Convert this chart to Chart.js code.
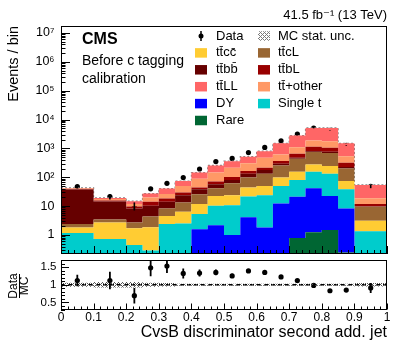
<!DOCTYPE html>
<html><head><meta charset="utf-8">
<script src="https://cdn.jsdelivr.net/npm/chart.js@4.4.0/dist/chart.umd.min.js"></script>
<style>
html,body{margin:0;padding:0;background:#fff;}
#wrap{position:relative;width:407px;height:344px;overflow:hidden;background:#fff;}
#main{position:absolute;left:0;top:0;}
#ratio{position:absolute;left:0;top:256px;}
</style></head><body>
<div id="wrap"><canvas id="main" width="407" height="258"></canvas><canvas id="ratio" width="407" height="88"></canvas></div>
<script>
// ---------------- data ----------------
const binEdges = [0,0.1,0.2,0.25,0.3,0.35,0.4,0.45,0.5,0.55,0.6,0.65,0.7,0.75,0.8,0.85,0.9,1.0];
// stacked MC components, events per bin (bottom of stack first)
const rare    = [0,0,0,0,0,0,0,0,0,0,0,0,0.79,1.24,1.49,0.25,0];
const dy      = [0,0,0,0,0,0,1.6,2.2,1.0,4.1,1.84,12.4,20.2,40.8,21.2,8.05,0];
const singleT = [1.17,0.73,0.45,0.29,2.4,2.5,3.7,8.1,9.8,17.5,22.2,37.6,59,115,111,30.2,1.34];
const ttcc    = [0.67,2.0,1.25,1.56,2.2,3.9,6.5,12.4,13.2,23,26,48,77,123,111,36.5,1.76];
const ttcL    = [0.56,0.7,1.04,2.55,3.7,7.0,14.2,18.9,38,53.4,84,161,283,480,455,125,6.4];
const ttbb    = [35.6,11.1,5.56,5.9,5.8,10.5,12.5,16,18,36,44,38,38,44,65,26,0.2];
const ttbL    = [1.5,1.2,1.4,3.8,4.4,5.7,6.1,14.4,22,30,37,68,177,336,285,94,2.1];
const ttOther = [1.5,2.1,2.3,5.8,8.0,20.4,45.4,74,113,140,263,255,455,750,740,220,7.1];
const ttLL    = [2.0,1.5,2.9,7.4,14.2,24.6,56,113,147,214,326,890,1700,3260,3360,970,35.4];
// data
const dataVals = [48,21.6,10.3,40,62,98,194,350,452,720,1085,1840,3150,5050,4270,1280,49];
const dataErr  = [6.9,4.6,3.2,6.3,7.9,9.9,13.9,18.7,21.3,26.8,32.9,42.9,56.1,71,65.3,35.8,7];
// ratio panel
const ratioVals = [1.12,1.12,0.69,1.48,1.53,1.32,1.33,1.35,1.25,1.39,1.35,1.22,1.12,0.98,0.83,0.85,0.91];
const ratioErr  = [0.16,0.25,0.22,0.24,0.20,0.14,0.10,0.08,0.06,0.04,0.035,0.025,0.02,0.015,0.015,0.025,0.14];
const mcUnc     = [0.06,0.08,0.08,0.06,0.05,0.03,0.03,0.03,0.03,0.03,0.03,0.03,0.03,0.03,0.03,0.03,0.05];
// ticks
const yMainTickVals   = [1,10,100,1e3,1e4,1e5,1e6,1e7];
const yMainTickLabels = ['1','10','10\u00B2','10\u00B3','10\u2074','10\u2075','10\u2076','10\u2077'];
const xTickVals   = [0,0.1,0.2,0.3,0.4,0.5,0.6,0.7,0.8,0.9,1];
const xTickLabels = ['0','0.1','0.2','0.3','0.4','0.5','0.6','0.7','0.8','0.9','1'];
const yRatioTickVals   = [0.5,1,1.5];
const yRatioTickLabels = ['0.5','1','1.5'];
// process names and colours
const procNames  = ['Rare','DY','Single t','tt\u0304cc\u0304','tt\u0304cL','tt\u0304bb\u0304','tt\u0304bL','tt\u0304+other','tt\u0304LL'];
const procColors = ['#006633','#0000ff','#00cccc','#ffcc33','#996633','#660000','#990000','#ff9966','#ff6666'];
const procVals   = [rare,dy,singleT,ttcc,ttcL,ttbb,ttbL,ttOther,ttLL];

const FONT = '"Liberation Sans", Arial, Helvetica, "DejaVu Sans", sans-serif';
const nb = binEdges.length - 1;
const centers = binEdges.slice(0,-1).map((e,i)=>(e+binEdges[i+1])/2);
function stepPts(arr){ const p=[]; for(let i=0;i<nb;i++) p.push({x:binEdges[i],y:arr[i]}); p.push({x:binEdges[nb],y:arr[nb-1]}); return p; }

// hatch pattern for MC stat. unc.
function makeHatch(col){
  const c=document.createElement('canvas'); c.width=4; c.height=4;
  const g=c.getContext('2d');
  g.fillStyle=col;
  for(let x=0;x<4;x++) for(let y=0;y<4;y++){ if((x+y)%4===0 || (x-y+4)%4===0) g.fillRect(x,y,1,1); }
  return g.createPattern(c,'repeat');
}
const hatchMain = makeHatch('#7a7a7a');

// cumulative stack (built from the component arrays); floor keeps values below axis drawable on log scale
const FLOOR = 0.1;
const cum = new Array(nb).fill(0);
const stackSets = procVals.map((vals,k)=>{
  for(let i=0;i<nb;i++) cum[i]+=vals[i];
  return {type:'line', label:procNames[k], data:stepPts(cum.map(v=>Math.max(v,FLOOR))), stepped:true,
          fill: k===0 ? 'start' : '-1', backgroundColor:procColors[k], borderColor:'rgba(0,0,0,0)', borderWidth:0, pointRadius:0};
});
const totalMC = cum.slice();

function drawFrame(ctx, ca){
  ctx.save(); ctx.strokeStyle='#000'; ctx.lineWidth=1;
  ctx.strokeRect(Math.round(ca.left)+0.5, Math.round(ca.top)+0.5, Math.round(ca.right-ca.left)-1, Math.round(ca.bottom-ca.top)-1);
  ctx.restore();
}
function hLine(ctx,x1,x2,y){ y=Math.round(y)+0.5; ctx.beginPath(); ctx.moveTo(x1,y); ctx.lineTo(x2,y); ctx.stroke(); }
function vLine(ctx,x,y1,y2){ x=Math.round(x)+0.5; ctx.beginPath(); ctx.moveTo(x,y1); ctx.lineTo(x,y2); ctx.stroke(); }
function xTicks(ctx, xs, ca, maj, mnr){
  for(let i=0;i<=50;i++){ const v=i*0.02; const px=xs.getPixelForValue(v); const L=(i%5===0)?maj:mnr; vLine(ctx,px,ca.bottom,ca.bottom-L); }
}
function errBars(ctx, chart, ys, xs, vals, errs, lw){
  const ca=chart.chartArea;
  ctx.save(); ctx.beginPath(); ctx.rect(ca.left,ca.top,ca.right-ca.left,ca.bottom-ca.top); ctx.clip();
  ctx.strokeStyle='#000'; ctx.lineWidth=lw;
  for(let i=0;i<nb;i++){
    const x=xs.getPixelForValue(centers[i]);
    ctx.beginPath(); ctx.moveTo(x, ys.getPixelForValue(vals[i]-errs[i])); ctx.lineTo(x, ys.getPixelForValue(vals[i]+errs[i])); ctx.stroke();
  }
  ctx.restore();
}

const mainPlugin = {
  id:'mainDeco',
  afterDatasetsDraw(chart){
    const ctx=chart.ctx; errBars(ctx, chart, chart.scales.y, chart.scales.x, dataVals, dataErr, 1.6);
  },
  afterDraw(chart){
    const ctx=chart.ctx, ca=chart.chartArea, ys=chart.scales.y, xs=chart.scales.x;
    drawFrame(ctx, ca);
    ctx.save(); ctx.strokeStyle='#000'; ctx.lineWidth=1;
    for(let d=-1; d<=7; d++){
      for(let k=1;k<=9;k++){
        const v=k*Math.pow(10,d);
        if(v<ys.min||v>ys.max) continue;
        const py=ys.getPixelForValue(v);
        hLine(ctx, ca.left, ca.left+(k===1?9:4.5), py);
      }
    }
    xTicks(ctx, xs, ca, 8, 4);
    ctx.restore();
    // texts
    ctx.save(); ctx.fillStyle='#000'; ctx.textBaseline='alphabetic';
    ctx.textAlign='right'; ctx.font='13px '+FONT; ctx.fillText('41.5 fb\u207B\u00B9 (13 TeV)', 387, 19);
    ctx.textAlign='left'; ctx.font='bold 16px '+FONT; ctx.fillText('CMS', 82, 43.5);
    ctx.font='14px '+FONT; ctx.fillText('Before c tagging', 82, 65); ctx.fillText('calibration', 82, 83);
    // legend
    const rowY = r => 36 + r*16.9;
    ctx.font='13px '+FONT; ctx.textBaseline='middle';
    const leftCol  = ['Data','tt\u0304cc\u0304','tt\u0304bb\u0304','tt\u0304LL','DY','Rare'];
    const rightCol = ['MC stat. unc.','tt\u0304cL','tt\u0304bL','tt\u0304+other','Single t'];
    leftCol.forEach((name,r)=>{
      const y=rowY(r);
      if(name==='Data'){
        ctx.beginPath(); ctx.arc(201, y, 2.5, 0, Math.PI*2); ctx.fill();
        ctx.lineWidth=1.5; ctx.beginPath(); ctx.moveTo(201,y-5); ctx.lineTo(201,y+5); ctx.stroke();
      } else {
        ctx.fillStyle=procColors[procNames.indexOf(name)]; ctx.fillRect(195, y-4.75, 12, 9.5); ctx.fillStyle='#000';
      }
      ctx.fillText(name, 216, y);
    });
    rightCol.forEach((name,r)=>{
      const y=rowY(r);
      if(name==='MC stat. unc.'){ ctx.fillStyle=hatchMain; ctx.fillRect(258, y-4.75, 12, 9.5); ctx.fillStyle='#000'; }
      else { ctx.fillStyle=procColors[procNames.indexOf(name)]; ctx.fillRect(258, y-4.75, 12, 9.5); ctx.fillStyle='#000'; }
      ctx.fillText(name, 278, y);
    });
    ctx.restore();
  }
};

new Chart(document.getElementById('main'), {
  data:{ datasets:[
    ...stackSets,
    {type:'line', label:'MC stat. unc.', data:stepPts(totalMC), stepped:true, fill:false, borderColor:'#808080', borderDash:[2,2], borderWidth:1.2, pointRadius:0},
    {type:'scatter', label:'Data', data:centers.map((x,i)=>({x, y:dataVals[i]})), pointRadius:2.6, pointBackgroundColor:'#000', pointBorderWidth:0, borderWidth:0}
  ]},
  options:{
    responsive:false, animation:false, devicePixelRatio:1,
    layout:{padding:{left:0,right:20,top:26,bottom:3}},
    plugins:{legend:{display:false}, tooltip:{enabled:false}},
    scales:{
      x:{type:'linear', min:0, max:1, display:false},
      y:{type:'logarithmic', min:0.22, max:1.75e7, grid:{display:false, drawTicks:false}, border:{display:false},
         afterBuildTicks:s=>{ s.ticks = yMainTickVals.map(v=>({value:v})); },
         afterFit:s=>{ s.width=61; s.paddingTop=0; s.paddingBottom=0; },
         ticks:{ autoSkip:false, padding:6.5, color:'#000', font:{family:FONT,size:12.5},
                 callback:(v)=> yMainTickLabels[yMainTickVals.indexOf(v)] },
         title:{display:true, text:'Events / bin', align:'end', color:'#000', font:{family:FONT,size:14.5}, padding:{top:5,bottom:0}}
      }
    }
  },
  plugins:[mainPlugin]
});

// ---------------- ratio panel ----------------
const hatchRatio = makeHatch('#555555');
const ratioPlugin = {
  id:'ratioDeco',
  afterDatasetsDraw(chart){ errBars(chart.ctx, chart, chart.scales.y, chart.scales.x, ratioVals, ratioErr, 1.8); },
  afterDraw(chart){
    const ctx=chart.ctx, ca=chart.chartArea, ys=chart.scales.y, xs=chart.scales.x;
    drawFrame(ctx, ca);
    ctx.save(); ctx.strokeStyle='#000'; ctx.lineWidth=1;
    for(let i=3;i<=17;i++){ const v=i/10; const py=ys.getPixelForValue(v); hLine(ctx, ca.left, ca.left+(i%5===0?8:4), py); }
    xTicks(ctx, xs, ca, 6, 3);
    // y title as fraction Data / MC
    ctx.fillStyle='#000'; ctx.font='12px '+FONT; ctx.textAlign='center'; ctx.textBaseline='alphabetic';
    const cy = 286 - 256;
    ctx.save(); ctx.translate(17, cy); ctx.rotate(-Math.PI/2); ctx.fillText('Data', 0, 0); ctx.restore();
    ctx.save(); ctx.translate(28, cy); ctx.rotate(-Math.PI/2); ctx.fillText('MC', 0, 0); ctx.restore();
    ctx.lineWidth=1; vLine(ctx, 18.5, cy-12, cy+12);
    ctx.restore();
  }
};
new Chart(document.getElementById('ratio'), {
  data:{ datasets:[
    {type:'line', data:stepPts(mcUnc.map(u=>1+u)), stepped:true, fill:'+1', backgroundColor:hatchRatio, borderColor:'rgba(0,0,0,0)', borderWidth:0, pointRadius:0},
    {type:'line', data:stepPts(mcUnc.map(u=>1-u)), stepped:true, fill:false, borderColor:'rgba(0,0,0,0)', borderWidth:0, pointRadius:0},
    {type:'line', data:[{x:0,y:1},{x:1,y:1}], fill:false, borderColor:'#000', borderDash:[4,3], borderWidth:1.3, pointRadius:0},
    {type:'scatter', data:centers.map((x,i)=>({x, y:ratioVals[i]})), pointRadius:2.6, pointBackgroundColor:'#000', pointBorderWidth:0, borderWidth:0}
  ]},
  options:{
    responsive:false, animation:false, devicePixelRatio:1,
    layout:{padding:{left:0,right:20,top:2,bottom:0}},
    plugins:{legend:{display:false}, tooltip:{enabled:false}},
    scales:{
      x:{type:'linear', min:0, max:1, grid:{display:false, drawTicks:false}, border:{display:false},
         afterBuildTicks:s=>{ s.ticks = xTickVals.map(v=>({value:v})); },
         afterFit:s=>{ s.height=34.5; s.paddingLeft=0; s.paddingRight=0; },
         ticks:{ autoSkip:false, maxRotation:0, padding:1, color:'#000', font:{family:FONT,size:12},
                 callback:(v)=> xTickLabels[xTickVals.indexOf(v)] },
         title:{display:true, text:'CvsB discriminator second add. jet', align:'end', color:'#000', font:{family:FONT,size:16}, padding:{top:0,bottom:1.5}}
      },
      y:{type:'linear', min:0.3, max:1.7, grid:{display:false, drawTicks:false}, border:{display:false},
         afterBuildTicks:s=>{ s.ticks = yRatioTickVals.map(v=>({value:v})); },
         afterFit:s=>{ s.width=61; s.paddingTop=0; s.paddingBottom=0; },
         ticks:{ autoSkip:false, padding:4.5, color:'#000', font:{family:FONT,size:11.5},
                 callback:(v)=> yRatioTickLabels[yRatioTickVals.indexOf(v)] }
      }
    }
  },
  plugins:[ratioPlugin]
});
</script>
</body></html>
